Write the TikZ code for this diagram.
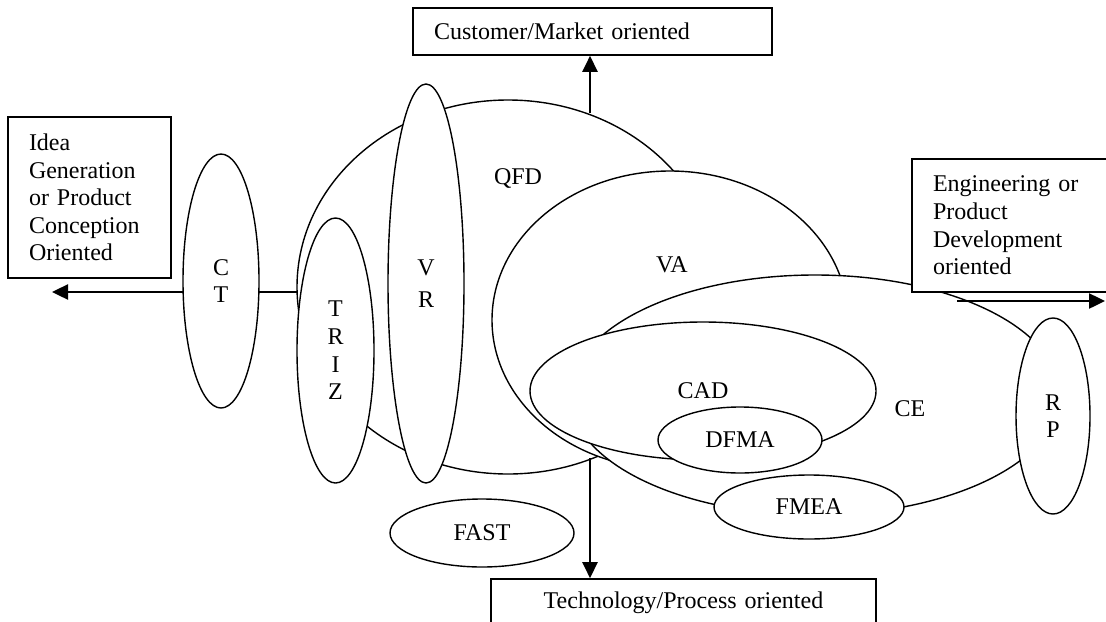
\documentclass[tikz,border=0pt]{standalone}
\usepackage{fontspec}
\setmainfont{Liberation Serif}
\usetikzlibrary{shapes.geometric,arrows.meta}

\begin{document}
\begin{tikzpicture}[x=0.5pt, y=-0.5pt,
    every node/.style={font=\fontsize{12}{13.8}\selectfont},
    blob/.style={draw, ellipse, fill=white, line width=0.7pt, inner sep=0pt, align=center},
    tag/.style={draw, rectangle, fill=white, line width=0.8pt, inner xsep=10.5pt, inner ysep=0pt},
    arr/.style={line width=1.2pt, -{Triangle[length=8pt, width=7.5pt]}}]
    \useasboundingbox (0, 0) rectangle (1106, 621);
    \clip (0, 0) rectangle (1106, 621);

    \coordinate (qfdtop) at (590, 113);
    \coordinate (qfdbot) at (590, 458);
    \coordinate (qfdleft) at (297, 292);
    \coordinate (leftend) at (52, 292);
    \coordinate (ceright) at (957, 301);
    \coordinate (rightend) at (1105, 301);

    \node[blob, minimum width=211pt, minimum height=187pt] (qfd) at (508, 287) {};
    \node[blob, minimum width=178pt, minimum height=149pt] (va) at (670, 320) {};
    \node[blob, minimum width=245pt, minimum height=120pt] (ce) at (815, 395) {};
    \node[blob, minimum width=173pt, minimum height=69pt] (cad) at (703, 391) {CAD};
    \node[blob, minimum width=82pt, minimum height=33pt] (dfma) at (740, 440) {DFMA};
    \node[blob, minimum width=95pt, minimum height=32pt] (fmea) at (809, 507) {FMEA};
    \node[blob, minimum width=37pt, minimum height=98pt] (rp) at (1053, 416) {R\\P};

    \node[blob, minimum width=38.5pt, minimum height=132.5pt] (triz) at (335.5, 350.5) {T\\R\\I\\Z};
    \node[blob, minimum width=38pt, minimum height=199.5pt] (vr) at (426, 283.5) {V\\[2pt]R};

    \draw[arr] (qfdleft) -- (leftend);
    \node[blob, minimum width=38pt, minimum height=127pt] (ct) at (221, 281) {C\\T};
    \node[blob, minimum width=92pt, minimum height=34pt] (fast) at (482, 533) {FAST};

    \node[tag, minimum height=23.5pt, text width=158.5pt, align=left] (market) at (592.5, 31.5)
      {Customer/Market oriented};
    \node[tag, minimum height=80.5pt, text width=60.5pt, align=left] (idea) at (89.5, 197.5)
      {Idea\\Generation\\or Product\\Conception\\Oriented};
    \node[tag, minimum height=66.5pt, text width=81pt, align=left] (engin) at (1014, 225.5)
      {Engineering or\\Product\\Development\\oriented};
    \node[tag, minimum height=23.5pt, text width=171.5pt, align=center] (tech) at (683.5, 602.5)
      {Technology/Process oriented};

    \draw[arr] (qfdtop) -- (qfdtop |- market.south);
    \draw[arr] (qfdbot) -- (qfdbot |- tech.north);
    \draw[arr] (ceright) -- (rightend);

    \node (qfdlabel) at (518, 178) {QFD};
    \node (valabel) at (672, 265) {VA};
    \node (celabel) at (910, 409) {CE};
  \end{tikzpicture}
\end{document}
